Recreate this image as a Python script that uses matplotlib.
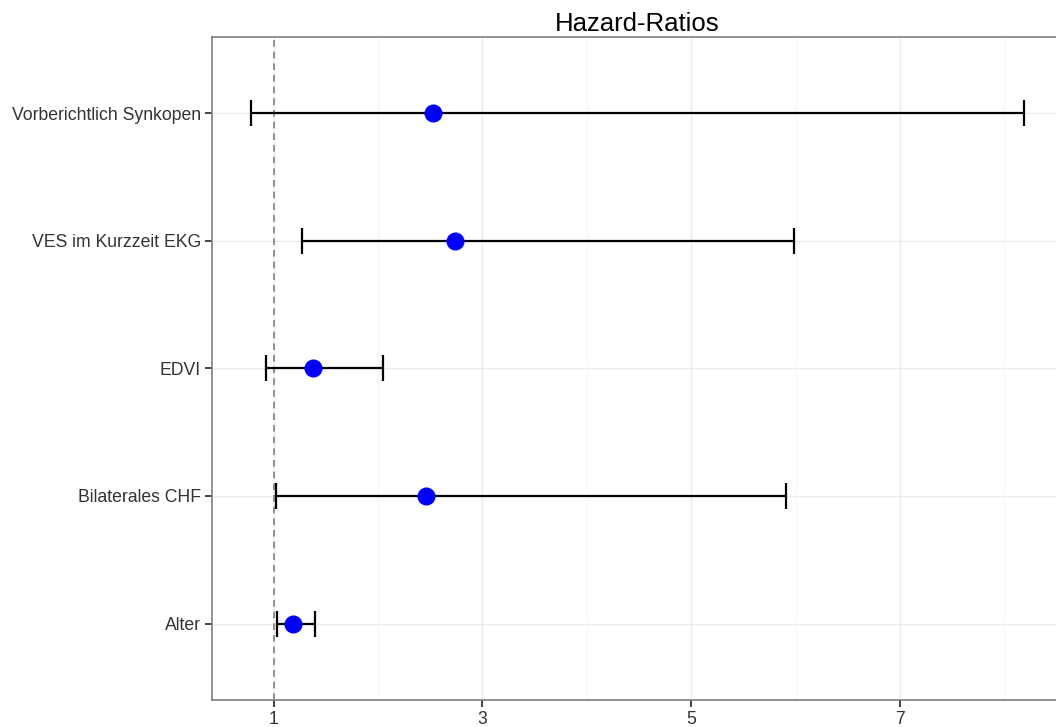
import matplotlib
matplotlib.use("Agg")
import matplotlib.pyplot as plt
import numpy as np

plt.rcParams['font.family'] = ['Liberation Sans', 'DejaVu Sans']

# hazard ratios with confidence intervals, bottom to top
labels = ["Alter", "Bilaterales CHF", "EDVI", "VES im Kurzzeit EKG", "Vorberichtlich Synkopen"]
hr = [1.19, 2.46, 1.38, 2.74, 2.53]
lower = [1.03, 1.02, 0.93, 1.27, 0.78]
upper = [1.40, 5.91, 2.05, 5.98, 8.19]

xticks = [1, 3, 5, 7]

fig = plt.figure(figsize=(10.56, 7.27), dpi=100)
# axes runs past the right edge, like the cropped original
ax = fig.add_axes([212 / 1056, 1 - 700 / 727, (1063 - 212) / 1056, (700 - 37) / 727])

ypos = np.arange(1, len(labels) + 1)
hr = np.array(hr)
lower = np.array(lower)
upper = np.array(upper)

ax.errorbar(hr, ypos, xerr=[hr - lower, upper - hr], fmt='none', ecolor='black',
            elinewidth=1.6, capsize=9.5, capthick=1.6, zorder=3)
ax.plot(hr, ypos, 'o', color='blue', markersize=12, zorder=4)
ax.axvline(1, color='grey', linestyle=(0, (4, 3)), linewidth=1.2, zorder=2)

rng = upper.max() - lower.min()
ax.set_xlim(lower.min() - 0.05 * rng, upper.max() + 0.05 * rng)
ax.set_ylim(0.4, len(labels) + 0.6)

ax.set_xticks(xticks)
ax.set_xticks([2, 4, 6, 8], minor=True)
ax.set_yticks(ypos)
ax.set_yticklabels(labels)

ax.grid(True, which='major', color='#EBEBEB', linewidth=1.0, zorder=0)
ax.grid(True, which='minor', axis='x', color='#F5F5F5', linewidth=0.8, zorder=0)
ax.set_axisbelow(True)

for s in ax.spines.values():
    s.set_color('#7F7F7F')
    s.set_linewidth(1.2)

ax.tick_params(axis='both', which='major', colors='#222222', labelcolor='#333333',
               labelsize=12.7, length=5, width=1.2, pad=3)
ax.tick_params(axis='both', which='minor', length=0)

ax.set_title("Hazard-Ratios", fontsize=18.5, color='black', pad=4)

fig.savefig("out.png", dpi=100)
